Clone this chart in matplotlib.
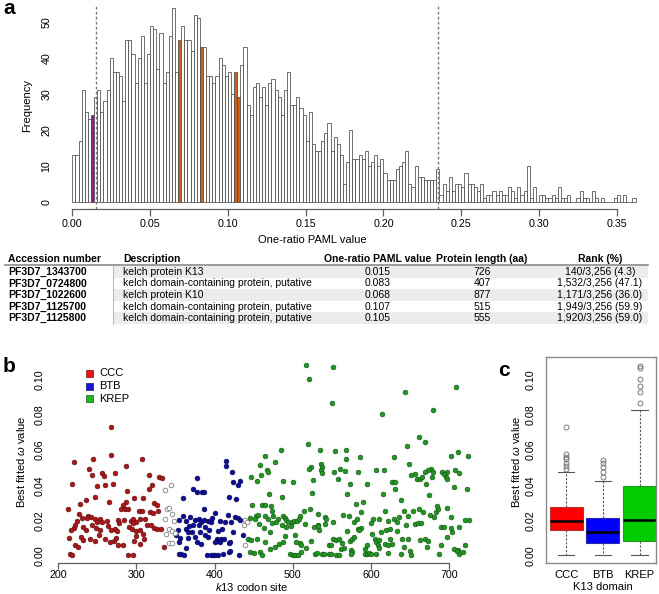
import numpy as np
import matplotlib
matplotlib.use('Agg')
import matplotlib.pyplot as plt
from matplotlib.patches import Rectangle
from matplotlib.lines import Line2D
from matplotlib.ticker import FormatStrFormatter
from matplotlib import font_manager

plt.rcParams['font.family'] = ['Liberation Sans', 'DejaVu Sans']
plt.rcParams['mathtext.fontset'] = 'custom'
plt.rcParams['mathtext.it'] = 'Liberation Sans:italic'
plt.rcParams['mathtext.rm'] = 'Liberation Sans'
_names = {f.name for f in font_manager.fontManager.ttflist}
NARROW = 'Liberation Sans Narrow' if 'Liberation Sans Narrow' in _names else 'Liberation Sans'

# ---------------- data ----------------
# panel a: histogram of one-ratio PAML values (bin width 0.002 starting at 0)
bin_width = 0.002
hist_counts = [13, 13, 17, 31, 25, 23, 24, 29, 31, 25,
               28, 31, 40, 36, 36, 35, 28, 45, 45, 41,
               33, 40, 46, 33, 41, 49, 48, 37, 47, 33,
               36, 46, 54, 36, 45, 49, 45, 45, 42, 52,
               51, 43, 43, 35, 35, 33, 35, 40, 38, 35,
               36, 30, 36, 29, 38, 43, 27, 24, 32, 33,
               29, 32, 27, 33, 34, 31, 29, 24, 31, 36,
               27, 27, 29, 26, 24, 17, 25, 16, 14, 14,
               17, 19, 22, 14, 18, 16, 13, 5, 11, 20,
               12, 12, 13, 12, 14, 10, 11, 13, 10, 12,
               8, 6, 6, 6, 9, 10, 11, 14, 5, 4,
               10, 7, 7, 6, 6, 6, 6, 9, 2, 5,
               3, 7, 3, 5, 5, 4, 8, 5, 5, 4,
               3, 5, 1, 2, 2, 3, 2, 3, 2, 2,
               4, 3, 1, 4, 2, 3, 10, 1, 4, 0,
               2, 2, 1, 1, 2, 1, 4, 1, 1, 2,
               0, 0, 1, 3, 1, 1, 0, 3, 1, 0,
               1, 0, 0, 0, 1, 2, 0, 2, 0, 0, 1]
purple_bins = [0.012]
orange_bins = [0.068, 0.082, 0.104, 0.106]
dashed_lines = [0.015, 0.235]
hist_xticks = [0.00, 0.05, 0.10, 0.15, 0.20, 0.25, 0.30, 0.35]
hist_yticks = [0, 10, 20, 30, 40, 50]

# table
tbl_header = ['Accession number', 'Description', 'One-ratio PAML value',
              'Protein length (aa)', 'Rank (%)']
tbl_acc = ['PF3D7_1343700', 'PF3D7_0724800', 'PF3D7_1022600', 'PF3D7_1125700', 'PF3D7_1125800']
tbl_desc = ['kelch protein K13', 'kelch domain-containing protein, putative', 'kelch protein K10',
            'kelch domain-containing protein, putative', 'kelch domain-containing protein, putative']
tbl_paml = ['0.015', '0.083', '0.068', '0.107', '0.105']
tbl_len = ['726', '407', '877', '515', '555']
tbl_rank = ['140/3,256 (4.3)', '1,532/3,256 (47.1)', '1,171/3,256 (36.0)',
            '1,949/3,256 (59.9)', '1,920/3,256 (59.0)']

# panel b: (codon, omega)
ccc_points = [(268, 0.073), (267, 0.057), (220, 0.053), (245, 0.055), (307, 0.0547), (287, 0.051),
              (239, 0.049), (256, 0.047), (273, 0.047), (243, 0.046), (316, 0.046), (329, 0.0446),
              (333, 0.0443), (258, 0.045), (217, 0.041), (249, 0.0397), (260, 0.040), (270, 0.041),
              (320, 0.040), (316, 0.038), (288, 0.0368), (236, 0.0318), (247, 0.0334), (228, 0.0297),
              (213, 0.0268), (265, 0.0306), (287, 0.0303), (297, 0.0330), (308, 0.0328), (283, 0.0291),
              (323, 0.030), (326, 0.0291), (280, 0.0268), (285, 0.0265), (289, 0.0268), (303, 0.0257),
              (307, 0.0255), (317, 0.025), (321, 0.0242), (327, 0.0253), (227, 0.024), (238, 0.0227),
              (242, 0.0221), (247, 0.0208), (253, 0.0208), (256, 0.0193), (230, 0.0216), (237, 0.0216),
              (224, 0.0197), (249, 0.0193), (262, 0.0197), (264, 0.0168), (276, 0.0204), (278, 0.0189),
              (293, 0.020), (296, 0.0208), (300, 0.0193), (304, 0.0208), (311, 0.0208), (313, 0.0178),
              (318, 0.0174), (322, 0.0159), (326, 0.0155), (332, 0.0151), (296, 0.0185), (290, 0.0166),
              (294, 0.0155), (243, 0.0174), (248, 0.016), (253, 0.0149), (236, 0.0145), (232, 0.0162),
              (220, 0.0159), (216, 0.0149), (222, 0.0174), (268, 0.0145), (272, 0.0151), (275, 0.014),
              (300, 0.0143), (305, 0.0145), (308, 0.0126), (214, 0.0102), (229, 0.011), (232, 0.0091),
              (240, 0.0094), (247, 0.0083), (260, 0.0098), (266, 0.0079), (271, 0.0087), (274, 0.010),
              (283, 0.0064), (297, 0.0083), (300, 0.0113), (305, 0.007), (310, 0.0098), (335, 0.0051),
              (221, 0.006), (225, 0.0051), (215, 0.0011), (218, 0.0006), (289, 0.0006), (295, 0.0006),
              (277, 0.0064), (252, 0.0120), (284, 0.0204)]
btb_points = [(360, 0.0326), (354, 0.0203), (360, 0.0227), (364, 0.0197), (353, 0.0145), (350, 0.012),
              (356, 0.0102), (354, 0.0081), (363, 0.0155), (357, 0.0011), (361, 0.0006), (355, 0.0013),
              (414, 0.0537), (415, 0.0508), (422, 0.0476), (433, 0.0427), (424, 0.0416), (430, 0.0404),
              (378, 0.0442), (372, 0.0378), (378, 0.0363), (384, 0.0363), (386, 0.0361), (418, 0.0333),
              (427, 0.0321), (387, 0.0265), (401, 0.0246), (417, 0.0231), (426, 0.0221), (430, 0.0216),
              (433, 0.0202), (369, 0.0221), (375, 0.0202), (380, 0.0212), (383, 0.0193), (391, 0.0197),
              (396, 0.0193), (407, 0.0197), (413, 0.0193), (421, 0.0193), (367, 0.017), (373, 0.0178),
              (380, 0.0178), (388, 0.0164), (366, 0.0136), (371, 0.0136), (381, 0.0136), (393, 0.0145),
              (405, 0.0143), (424, 0.0136), (366, 0.0102), (375, 0.0108), (388, 0.0117), (392, 0.0106),
              (403, 0.0098), (405, 0.0083), (407, 0.0079), (408, 0.0094), (412, 0.0098), (401, 0.0079),
              (418, 0.0075), (420, 0.0079), (436, 0.0121), (383, 0.0068), (377, 0.0079), (390, 0.0006),
              (395, 0.0008), (398, 0.0006), (401, 0.0008), (404, 0.0006), (411, 0.0011), (418, 0.0023),
              (420, 0.0026), (431, 0.0006), (364, 0.0045), (397, 0.0213), (410, 0.0150), (386, 0.0205)]
krep_points = [(517, 0.108), (521, 0.1002), (519, 0.0631), (485, 0.0599), (465, 0.0567), (477, 0.0533),
               (458, 0.0514), (523, 0.0505), (521, 0.0491), (467, 0.0484), (468, 0.0476), (459, 0.0461),
               (447, 0.0448), (454, 0.0427), (487, 0.0423), (500, 0.042), (526, 0.0429), (470, 0.0353),
               (525, 0.0359), (486, 0.0334), (461, 0.0287), (464, 0.0287), (472, 0.0283), (448, 0.0287),
               (474, 0.0257), (514, 0.0253), (522, 0.0265), (453, 0.0227), (455, 0.0231), (445, 0.0216),
               (452, 0.0212), (465, 0.0227), (468, 0.0212), (475, 0.0227), (481, 0.0212), (488, 0.0227),
               (490, 0.0216), (492, 0.0202), (494, 0.0193), (499, 0.0193), (502, 0.020), (506, 0.0197),
               (509, 0.0227), (508, 0.0208), (516, 0.0183), (457, 0.0181), (473, 0.0185), (479, 0.0193),
               (486, 0.0178), (491, 0.0163), (498, 0.017), (527, 0.0166), (532, 0.0178), (463, 0.0159),
               (471, 0.0136), (490, 0.0113), (503, 0.0121), (443, 0.0094), (447, 0.0089), (454, 0.0094),
               (465, 0.0079), (477, 0.0051), (471, 0.0042), (482, 0.007), (488, 0.0079), (504, 0.0079),
               (509, 0.0075), (511, 0.006), (517, 0.0045), (524, 0.0083), (445, 0.0023), (450, 0.0019),
               (458, 0.0023), (461, 0.0006), (497, 0.0013), (500, 0.0006), (503, 0.0008), (507, 0.0008),
               (511, 0.0023), (529, 0.0013),
               (551, 0.1072), (550, 0.0864), (644, 0.0926), (709, 0.0958), (614, 0.0801), (680, 0.0826),
               (662, 0.0675), (669, 0.0646), (646, 0.0624), (535, 0.0599), (554, 0.0595), (568, 0.0599),
               (568, 0.0548), (711, 0.059), (703, 0.0567), (586, 0.0559), (630, 0.0561), (536, 0.0523),
               (538, 0.0505), (536, 0.0486), (538, 0.0467), (561, 0.0491), (553, 0.0476), (567, 0.048),
               (583, 0.0476), (606, 0.0489), (617, 0.0489), (649, 0.0523), (677, 0.0495), (673, 0.0486),
               (697, 0.0476), (708, 0.0486), (713, 0.0472), (652, 0.0461), (657, 0.0465), (659, 0.0438),
               (663, 0.0435), (666, 0.0448), (669, 0.0476), (678, 0.0448), (679, 0.0476), (691, 0.0476),
               (694, 0.0465), (696, 0.0448), (698, 0.0438), (558, 0.0435), (573, 0.041), (595, 0.0408),
               (627, 0.042), (631, 0.0416), (671, 0.041), (631, 0.0378), (706, 0.0391), (570, 0.035),
               (616, 0.0351), (674, 0.0344), (590, 0.0306), (581, 0.0295), (638, 0.0319), (532, 0.024),
               (541, 0.0221), (543, 0.0208), (541, 0.0183), (533, 0.017), (552, 0.0193), (565, 0.0231),
               (572, 0.0227), (579, 0.0193), (582, 0.0212), (584, 0.0151), (588, 0.0159), (588, 0.025),
               (600, 0.0189), (603, 0.0212), (610, 0.0212), (618, 0.0253), (622, 0.0197), (629, 0.0208),
               (634, 0.0193), (636, 0.0221), (643, 0.0255), (645, 0.0178), (648, 0.0227), (654, 0.0257),
               (661, 0.0265), (656, 0.0183), (660, 0.0185), (664, 0.0189), (667, 0.025), (676, 0.0234),
               (681, 0.0221), (683, 0.025), (686, 0.0265), (685, 0.0283), (697, 0.0272), (690, 0.0164),
               (694, 0.0164), (702, 0.0221), (703, 0.0161), (713, 0.0164), (534, 0.0145), (569, 0.014),
               (585, 0.0145), (601, 0.0126), (613, 0.0136), (620, 0.0145), (625, 0.0151), (633, 0.014),
               (669, 0.0098), (698, 0.0106), (704, 0.0136), (552, 0.0094), (556, 0.0091), (559, 0.0094),
               (563, 0.0075), (573, 0.0083), (576, 0.0098), (578, 0.0106), (546, 0.006), (549, 0.0064),
               (562, 0.0042), (566, 0.0045), (575, 0.0032), (576, 0.0023), (595, 0.0064), (593, 0.0042),
               (605, 0.0098), (607, 0.0079), (610, 0.0089), (609, 0.006), (618, 0.007), (622, 0.0064),
               (625, 0.0094), (627, 0.007), (640, 0.0094), (647, 0.0094), (642, 0.0051), (663, 0.0089),
               (673, 0.0087), (672, 0.0051), (690, 0.0064), (707, 0.0042), (711, 0.0032), (531, 0.0019),
               (538, 0.0013), (540, 0.0013), (546, 0.0013), (549, 0.0013), (556, 0.0006), (559, 0.0006),
               (575, 0.0013), (592, 0.0013), (595, 0.0013), (598, 0.0019), (600, 0.0013), (606, 0.0013),
               (622, 0.0019), (639, 0.0013), (650, 0.0026), (652, 0.0006), (687, 0.0013), (710, 0.0026),
               (713, 0.0013), (610, 0.0045), (725, 0.0204), (723, 0.0381), (724, 0.0565), (721, 0.0204),
               (720, 0.0060), (718, 0.0023)]
unassigned_points = [(336, 0.0375), (344, 0.040), (339, 0.0265), (342, 0.027), (346, 0.024), (337, 0.021),
                     (348, 0.0197), (342, 0.0151), (346, 0.014), (338, 0.0123), (349, 0.0132), (342, 0.0075),
                     (346, 0.0072), (439, 0.0202), (441, 0.0193), (438, 0.0174), (439, 0.0062)]
scatter_xticks = [200, 300, 400, 500, 600, 700]
omega_yticks = [0.00, 0.02, 0.04, 0.06, 0.08, 0.10]
legend_labels = ['CCC', 'BTB', 'KREP']

# panel c: box statistics
box_labels = ['CCC', 'BTB', 'KREP']
box_q1 = [0.0147, 0.0072, 0.0085]
box_med = [0.0200, 0.0136, 0.0204]
box_q3 = [0.0278, 0.0217, 0.0396]
box_whislo = [0.0006, 0.0004, 0.0004]
box_whishi = [0.0474, 0.0426, 0.0826]
box_fliers = [[0.0492, 0.0509, 0.0528, 0.0547, 0.0562, 0.0575, 0.0732],
              [0.0449, 0.0477, 0.0506, 0.0525, 0.0543],
              [0.0864, 0.0928, 0.0962, 0.1000, 0.1066, 0.1077]]

# ---------------- styling ----------------
W, H = 659, 594
fig = plt.figure(figsize=(W / 100, H / 100), dpi=100)
AX_GREY = '#606060'
FS = 7.7


def px_axes(l, t, r, b):
    return fig.add_axes([l / W, 1 - b / H, (r - l) / W, (b - t) / H])


def ftext(x, y, s, **kw):
    fig.text(x / W, 1 - y / H, s, **kw)


# ---------------- panel a ----------------
axa = px_axes(59.85, 4.0, 651.1, 208.9)
edges = np.arange(len(hist_counts)) * bin_width
colors = []
for e in edges:
    if any(abs(e - p) < 1e-9 for p in purple_bins):
        colors.append('#8E1C8E')
    elif any(abs(e - o) < 1e-9 for o in orange_bins):
        colors.append('#C8621C')
    else:
        colors.append('white')
axa.bar(edges, hist_counts, width=bin_width, align='edge', color=colors,
        edgecolor='#4a4a4a', linewidth=0.55)
for d in dashed_lines:
    axa.axvline(d, color='#777777', lw=1.0, ls=(0, (2, 1.6)), zorder=5)
axa.set_xlim(-0.008, 0.372)
axa.set_ylim(-2, 55)
for s in ['top', 'right', 'left']:
    axa.spines[s].set_visible(False)
axa.spines['bottom'].set_bounds(0, 0.35)
axa.spines['bottom'].set_color(AX_GREY)
axa.spines['bottom'].set_linewidth(0.9)
axa.set_xticks(hist_xticks)
axa.xaxis.set_major_formatter(FormatStrFormatter('%.2f'))
axa.tick_params(axis='x', length=5, width=0.9, color=AX_GREY, labelsize=FS, pad=2)
axa.set_yticks(hist_yticks)
axa.tick_params(axis='y', length=0, labelsize=FS, pad=6, labelrotation=90)
for lab in axa.get_yticklabels():
    lab.set_va('center')
ftext(27, 106, 'Frequency', rotation=90, ha='center', va='center', fontsize=FS + 0.3)
ftext(312, 240, 'One-ratio PAML value', ha='center', va='center', fontsize=FS + 0.3)
ftext(9, 9, 'a', fontsize=15, fontweight='bold', ha='center', va='center')

# ---------------- table ----------------
row_y = [272, 283.5, 295, 306.5, 318]
head_y = 259
tfs = 7.5
col_x = [8, 123, 378, 482, 600]
col_ha = ['left', 'left', 'center', 'center', 'center']
for i, y in enumerate(row_y):
    if i % 2 == 0:
        fig.patches.append(Rectangle(((113) / W, 1 - (y + 5.8) / H), (648 - 113) / W, 11.5 / H,
                                     transform=fig.transFigure, facecolor='#ECECEC',
                                     edgecolor='none', zorder=0))
    fig.add_artist(Line2D([113 / W, 113 / W], [1 - (y + 5.8) / H, 1 - (y - 5.7) / H],
                          transform=fig.transFigure, color='#BBBBBB', lw=0.8))
fig.add_artist(Line2D([5 / W, 648 / W], [1 - 265 / H, 1 - 265 / H], transform=fig.transFigure,
                      color='#8a8a8a', lw=1.2))
for j, h in enumerate(tbl_header):
    ftext(col_x[j], head_y, h, ha=col_ha[j], va='center', fontsize=tfs, fontweight='bold',
          family=NARROW)
for i, y in enumerate(row_y):
    vals = [tbl_acc[i], tbl_desc[i], tbl_paml[i], tbl_len[i], tbl_rank[i]]
    for j, v in enumerate(vals):
        ftext(col_x[j], y, v, ha=col_ha[j], va='center', fontsize=tfs,
              fontweight='bold' if j == 0 else 'normal', family=NARROW)

# ---------------- panel b ----------------
axb = px_axes(52.05, 357.2, 485.7, 562.7)
series = [(ccc_points, '#A81818', '#5c0c0c'), (btb_points, '#0C0C96', '#050550'),
          (krep_points, '#249624', '#0f4f0f')]
for pts, fc, ec in series:
    xs = [p[0] for p in pts]
    ys = [p[1] for p in pts]
    axb.scatter(xs, ys, s=12, facecolor=fc, edgecolor=ec, linewidth=0.4, zorder=3)
axb.scatter([p[0] for p in unassigned_points], [p[1] for p in unassigned_points], s=11,
            facecolor='white', edgecolor='#808080', linewidth=0.6, zorder=3)
axb.set_xlim(192, 747)
axb.set_ylim(-0.0038, 0.1125)
for s in ['top', 'right', 'left']:
    axb.spines[s].set_visible(False)
axb.spines['bottom'].set_bounds(200, 700)
axb.spines['bottom'].set_color(AX_GREY)
axb.spines['bottom'].set_linewidth(0.9)
axb.set_xticks(scatter_xticks)
axb.tick_params(axis='x', length=4, width=0.9, color=AX_GREY, labelsize=FS, pad=1.5)
axb.set_yticks(omega_yticks)
axb.yaxis.set_major_formatter(FormatStrFormatter('%.2f'))
axb.tick_params(axis='y', length=0, labelsize=FS, pad=5, labelrotation=90)
for lab in axb.get_yticklabels():
    lab.set_va('center')
ftext(21, 462, r'Best fitted $\omega$ value', rotation=90, ha='center', va='center',
      fontsize=FS + 0.3)
ftext(252, 587, r'$\mathit{k13}$ codon site', ha='center', va='center', fontsize=FS + 0.3)
ftext(9, 366, 'b', fontsize=15, fontweight='bold', ha='center', va='center')
leg_fc = ['#EE1414', '#1414DD', '#20B820']
leg_ec = ['#701010', '#10106a', '#106010']
leg_y = [373.5, 386, 398.5]
for lab, fc, ec, y in zip(legend_labels, leg_fc, leg_ec, leg_y):
    fig.patches.append(Rectangle((86 / W, 1 - (y + 3.5) / H), 7 / W, 7 / H, transform=fig.transFigure,
                                 facecolor=fc, edgecolor=ec, lw=0.5))
    ftext(99, y, lab, ha='left', va='center', fontsize=FS + 0.3)

# ---------------- panel c ----------------
axc = px_axes(546, 357.2, 656, 562.7)
stats = []
for k in range(3):
    stats.append(dict(label=box_labels[k], q1=box_q1[k], med=box_med[k], q3=box_q3[k],
                      whislo=box_whislo[k], whishi=box_whishi[k], fliers=box_fliers[k]))
bp = axc.bxp(stats, positions=[1, 2, 3], widths=0.9, patch_artist=True, showfliers=True,
             medianprops=dict(color='black', lw=1.8),
             whiskerprops=dict(color='#555555', lw=0.8, linestyle=(0, (2, 1.5))),
             capprops=dict(color='#555555', lw=0.8),
             flierprops=dict(marker='o', markerfacecolor='none', markeredgecolor='#666666',
                             markersize=3.6, markeredgewidth=0.6))
box_fc = ['#FF0000', '#0000FF', '#00CC00']
box_ec = ['#B83030', '#2828A0', '#229922']
for patch, fc, ec in zip(bp['boxes'], box_fc, box_ec):
    patch.set_facecolor(fc)
    patch.set_edgecolor(ec)
    patch.set_linewidth(0.8)
axc.set_xlim(0.45, 3.45)
axc.set_ylim(-0.0038, 0.1125)
for s in axc.spines.values():
    s.set_color('#8a8a8a')
    s.set_linewidth(1.0)
axc.set_yticks(omega_yticks)
axc.yaxis.set_major_formatter(FormatStrFormatter('%.2f'))
axc.tick_params(axis='y', length=0, labelsize=FS, pad=7.5, labelrotation=90)
for lab in axc.get_yticklabels():
    lab.set_va('center')
axc.set_xticks([1, 2, 3])
axc.set_xticklabels(box_labels)
axc.tick_params(axis='x', length=0, labelsize=FS + 0.3, pad=5)
ftext(516, 462, r'Best fitted $\omega$ value', rotation=90, ha='center', va='center',
      fontsize=FS + 0.3)
ftext(603, 587, 'K13 domain', ha='center', va='center', fontsize=FS + 0.3)
ftext(504, 371, 'c', fontsize=15, fontweight='bold', ha='center', va='center')

fig.savefig('out.png', dpi=100)
